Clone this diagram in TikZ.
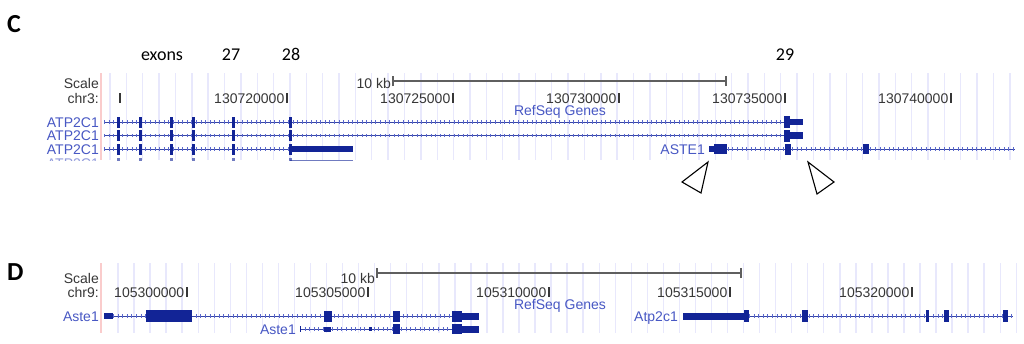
\documentclass[tikz,border=0pt]{standalone}
\usepackage{fontspec}
\setmainfont{Liberation Sans}
\newfontfamily\calfont{Carlito}
\definecolor{genec}{RGB}{18,36,150}
\definecolor{labc}{RGB}{72,88,196}
\definecolor{intc}{RGB}{90,104,205}
\definecolor{gridc}{RGB}{232,232,252}
\definecolor{redl}{RGB}{250,204,204}
\definecolor{txtg}{RGB}{55,55,55}
\tikzset{
  ucsc/.style={inner sep=0pt, font=\fontsize{14}{14}\selectfont, text=txtg},
  glab/.style={inner sep=0pt, font=\fontsize{14}{14}\selectfont, text=labc},
  anno/.style={inner sep=0pt, font=\calfont\fontsize{18}{18}\selectfont, anchor=base},
  panel/.style={inner sep=0pt, font=\calfont\bfseries\fontsize{26}{26}\selectfont, anchor=base west},
  intron/.style={draw=genec!85, line width=0.8pt, postaction={draw=intc, line width=3.6pt, dash pattern=on 0.8pt off 3.8pt}},
  gridl/.style={draw=gridc, line width=1.4pt},
  tickm/.style={draw=txtg, line width=1.1pt},
  sbar/.style={draw=txtg!80, line width=1.1pt},
  tri/.style={draw=black, fill=white, line width=1.1pt, line join=miter}
}
\newcommand{\blk}[4]{\fill[genec] (#1,#3-#4) rectangle (#2,#3+#4);}
\begin{document}
\begin{tikzpicture}[x=1pt,y=-1pt]
\useasboundingbox (0,0) rectangle (1024,343);
\fill[white] (0,0) rectangle (1024,343);
% ---------- Panel C ----------
\foreach \i in {0,...,55} \draw[gridl] ({110+\i*16.36},73) -- ({110+\i*16.36},160);
\draw[redl, line width=1.2pt] (101,73) -- (101,160);
\node[panel] (labC) at (7,32) {C};
\node[anno] (exons) at (162,60) {exons};
\node[anno] (e27) at (231,60) {27};
\node[anno] (e28) at (291,60) {28};
\node[anno] (e29) at (785,60) {29};
\node[ucsc, anchor=base east] (scaleC) at (99,88) {Scale};
\node[ucsc, anchor=base east] (chrC) at (99,103) {chr3:};
\draw[tickm] (120,93) -- (120,103);
\foreach \t/\n in {287/130720000,453/130725000,619/130730000,785/130735000,951/130740000}{
  \node[ucsc, anchor=base east] (tC\n) at (\t-2.5,103) {\n};
  \draw[tickm] (\t,93) -- (\t,103);
}
\node[ucsc, anchor=base east] (kbC) at (391,88) {10 kb};
\coordinate (bC1) at (393,81);
\coordinate (bC2) at (726,81);
\draw[sbar] (bC1) -- (bC2);
\draw[sbar] ([yshift=-5pt]bC1) -- ([yshift=5pt]bC1);
\draw[sbar] ([yshift=-5pt]bC2) -- ([yshift=5pt]bC2);
\node[glab, anchor=base] (refC) at (560,115) {RefSeq Genes};
% rows 1 and 2
\foreach \y [count=\r] in {122,135.5}{
  \node[glab, anchor=base east] (atpC\r) at (99,\y+5) {ATP2C1};
  \draw[intron] (104,\y) -- (785,\y);
  \foreach \a/\b in {117/120,139/142,170/173,192/194.5,232/235,289/292}{\blk{\a}{\b}{\y}{5.5}}
  \blk{784}{790}{\y}{6}
  \blk{790}{803}{\y}{3.2}
}
% row 3
\node[glab, anchor=base east] (atpC3) at (99,154) {ATP2C1};
\draw[intron] (104,149) -- (290,149);
\foreach \a/\b in {117/120,139/142,170/173,192/194.5,232/235,289/292}{\blk{\a}{\b}{149}{5.5}}
\blk{290}{353}{149}{3}
% ASTE1
\node[glab, anchor=base east] (asteC) at (705,154) {ASTE1};
\draw[intron] (714,149) -- (1015,149);
\blk{709}{714}{149}{3}
\blk{714}{727}{149}{5}
\blk{785}{790.5}{149}{5.5}
\blk{863}{869}{149}{5}
% row 4, clipped
\begin{scope}
\clip (0,150) rectangle (1024,160.3);
\begin{scope}[opacity=0.6]
\node[glab, anchor=base east] (atpC4) at (99,168) {ATP2C1};
\draw[intron] (104,163) -- (290,163);
\foreach \a/\b in {117/120,139/142,170/173,192/194.5,232/235,289/292}{\blk{\a}{\b}{163}{5}}
\blk{290}{353}{163}{3.5}
\end{scope}
\end{scope}
% triangles
\draw[tri] (708,162) -- (682,182) -- (701,193) -- cycle;
\draw[tri] (808,162) -- (834,182) -- (817,194) -- cycle;
% ---------- Panel D ----------
\foreach \i in {0,...,56} \draw[gridl] ({118+\i*16.04},263) -- ({118+\i*16.04},333);
\draw[redl, line width=1.2pt] (101,263) -- (101,333);
\node[panel] (labD) at (7,280) {D};
\node[ucsc, anchor=base east] (scaleD) at (99,283) {Scale};
\node[ucsc, anchor=base east] (chrD) at (99,297) {chr9:};
\foreach \t/\n in {187/105300000,368/105305000,549/105310000,730/105315000,912/105320000}{
  \node[ucsc, anchor=base east] (tD\n) at (\t-2.5,297) {\n};
  \draw[tickm] (\t,287) -- (\t,297);
}
\node[ucsc, anchor=base east] (kbD) at (375,283) {10 kb};
\coordinate (bD1) at (377,273);
\coordinate (bD2) at (741,273);
\draw[sbar] (bD1) -- (bD2);
\draw[sbar] ([yshift=-5pt]bD1) -- ([yshift=5pt]bD1);
\draw[sbar] ([yshift=-5pt]bD2) -- ([yshift=5pt]bD2);
\node[glab, anchor=base] (refD) at (560,309) {RefSeq Genes};
% Aste1 row 1
\node[glab, anchor=base east] (asteD1) at (99,321) {Aste1};
\draw[intron] (113,316) -- (479,316);
\blk{104}{113}{316}{3}
\blk{146}{192}{316}{6}
\blk{324}{332}{316}{5.5}
\blk{393}{400}{316}{5.5}
\blk{452}{462}{316}{5.5}
\blk{462}{479}{316}{3.5}
% Aste1 row 2
\node[glab, anchor=base east] (asteD2) at (296,334) {Aste1};
\draw[intron] (300,329) -- (479,329);
\draw[genec, line width=1pt] (300,326) -- (300,332);
\blk{324}{331}{329}{2.5}
\blk{369}{372}{329}{2}
\blk{393}{400}{329}{5}
\blk{452}{462}{329}{5}
\blk{462}{479}{329}{3.5}
% Atp2c1
\node[glab, anchor=base east] (atpD) at (678,321) {Atp2c1};
\draw[intron] (749,316) -- (1013,316);
\blk{683}{745}{316}{3.5}
\blk{744}{749}{316}{6}
\blk{802}{808}{316}{6}
\blk{926}{929}{316}{6}
\blk{944}{949}{316}{6}
\blk{1003}{1008}{316}{6}
\end{tikzpicture}
\end{document}
